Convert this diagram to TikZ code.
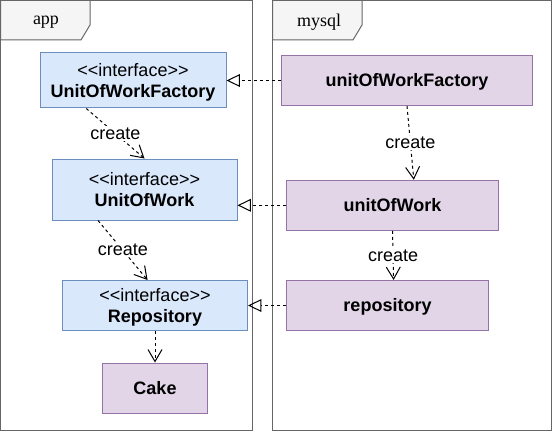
\documentclass[tikz,border=0pt]{standalone}
\usepackage{fontspec}
\setmainfont{Liberation Sans}
\newfontfamily\pkgfont{Liberation Serif}
\usetikzlibrary{arrows.meta,calc}

\definecolor{ifacefill}{HTML}{DAE8FC}
\definecolor{ifaceline}{HTML}{6C8EBF}
\definecolor{implfill}{HTML}{E1D5E7}
\definecolor{implline}{HTML}{9673A6}
\definecolor{pkgline}{HTML}{666666}
\definecolor{tabfill}{HTML}{F5F5F5}

\newcommand\ifacetext[1]{\rule{0pt}{13pt}<{}<interface>{}>\\\textbf{#1}\rule[-3pt]{0pt}{3pt}}

\begin{document}
\begin{tikzpicture}[x=0.75pt,y=-0.75pt,line width=0.75pt]
\tikzstyle{every node}+=[inner sep=0pt,font=\fontsize{13.5}{16.2}\selectfont]
\tikzstyle{pkg}=[draw=pkgline]
\tikzstyle{pkgtab}=[draw=pkgline,fill=tabfill]
\tikzstyle{iface}=[draw=ifaceline,fill=ifacefill,align=center]
\tikzstyle{impl}=[draw=implline,fill=implfill,text height=10.5pt,text depth=1pt,font=\fontsize{13.5}{16.2}\selectfont\bfseries]
\tikzstyle{realize}=[dash pattern=on 2.25pt off 2.25pt,-{Triangle[open,length=10pt,width=9.5pt]}]
\tikzstyle{create}=[dash pattern=on 2.25pt off 2.25pt,-{Straight Barb[length=9pt,width=10.5pt]}]
\tikzstyle{lbl}=[fill=white,inner sep=1pt]
\useasboundingbox (0,0) rectangle (552,431);
% packages
\draw [pkg] (0.5,0.5) rectangle (252,430);
\draw [pkgtab] (0.5,0.5) -- (90,0.5) -- (90,25) -- (81,40) -- (0.5,40) -- cycle;
\node (app) at (46,22) {\pkgfont\fontsize{13.5}{16}\selectfont app};
\draw [pkg] (272.5,0.5) rectangle (551.5,430);
\draw [pkgtab] (272.5,0.5) -- (362,0.5) -- (362,25) -- (353,40) -- (272.5,40) -- cycle;
\node (mysql) at (319,22) {\pkgfont\fontsize{13.5}{16}\selectfont mysql};
% interfaces
\node [iface,minimum width=139.5pt,minimum height=41.25pt] (iuwf) at (133,80.5) {\ifacetext{UnitOfWorkFactory}};
\node [iface,minimum width=138.75pt,minimum height=45.75pt] (iuw) at (144.5,189.5) {\ifacetext{UnitOfWork}};
\node [iface,minimum width=138.75pt,minimum height=37.5pt] (irepo) at (155,305.5) {\ifacetext{Repository}};
\node [impl,minimum width=78.75pt,minimum height=37.5pt] (cake) at (155,388) {Cake};
% implementations
\node [impl,minimum width=188.25pt,minimum height=37.5pt] (muwf) at (407,80.5) {unitOfWorkFactory};
\node [impl,minimum width=159pt,minimum height=37.5pt] (muw) at (392.5,205.3) {unitOfWork};
\node [impl,minimum width=151.5pt,minimum height=37.5pt] (mrepo) at (387.5,305.5) {repository};
% realization
\draw [realize] (muwf.west) -- (muwf.west -| iuwf.east);
\draw [realize] (muw.west) -- (muw.west -| iuw.east);
\draw [realize] (mrepo.west) -- (mrepo.west -| irepo.east);
% dependencies
\draw [create] ($(iuwf.south west)!0.25!(iuwf.south east)$) -- node [lbl] {create} (iuw.north);
\draw [create] ($(iuw.south west)!0.25!(iuw.south east)$) -- node [lbl] {create} ($(irepo.north west)!0.46!(irepo.north east)$);
\draw [create] (irepo.south) -- (cake.north);
\draw [create] ($(muwf.south west)!0.5!(muwf.south east)$) -- node [lbl] {create} ($(muw.north west)!0.6!(muw.north east)$);
\draw [create] (muw.south) -- node [lbl] {create} ($(mrepo.north west)!0.53!(mrepo.north east)$);
\end{tikzpicture}
\end{document}
